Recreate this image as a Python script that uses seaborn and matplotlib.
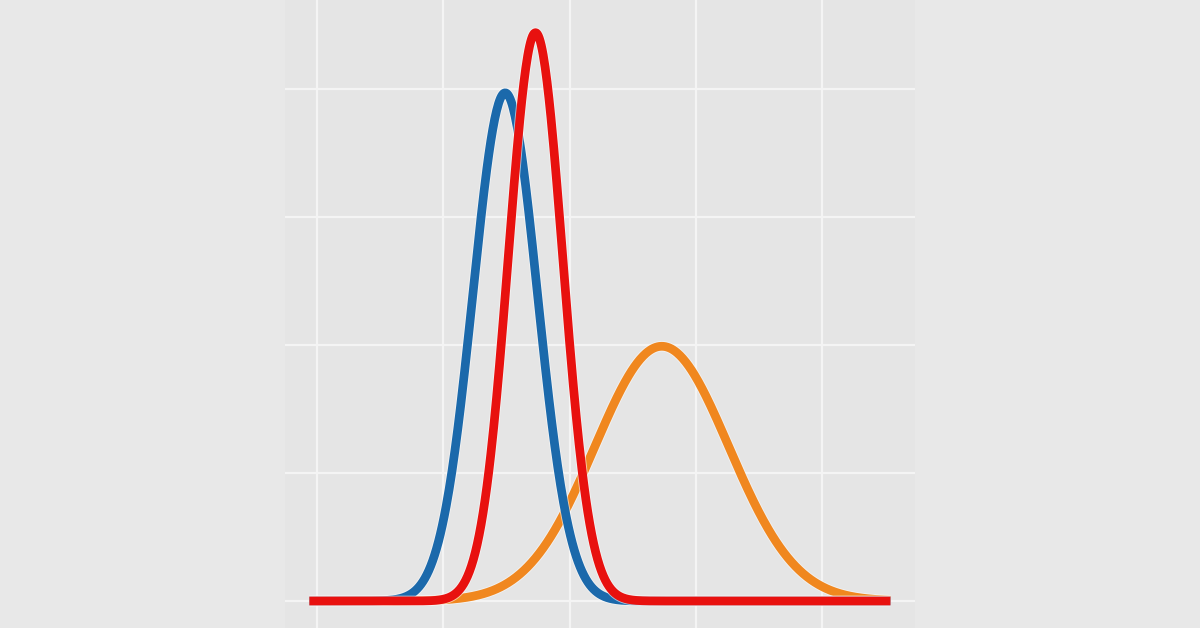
import numpy as np
import pandas as pd
import matplotlib
matplotlib.use("Agg")
import matplotlib.pyplot as plt
import matplotlib.patheffects as pe
import seaborn as sns

# three bell curves (centre, spread, peak height)
curve_names = ["orange", "blue", "red"]
curve_centres = [2.73, 1.49, 1.73]
curve_spreads = [0.53, 0.255, 0.215]
curve_peaks = [1.99, 3.97, 4.44]
curve_colours = ["#f0871f", "#1b69ab", "#e8110f"]

x_start, x_end = -0.06, 4.54
x_ticks = [0, 1, 2, 3, 4]
y_ticks = [0, 1, 2, 3, 4]


def bell_frame(name, centre, spread, peak):
    xs = np.linspace(x_start, x_end, 600)
    ys = peak * np.exp(-0.5 * ((xs - centre) / spread) ** 2)
    return pd.DataFrame({"x": xs, "y": ys, "curve": name})


frames = [bell_frame(n, c, s, p) for n, c, s, p in
          zip(curve_names, curve_centres, curve_spreads, curve_peaks)]
df = pd.concat(frames, ignore_index=True)

sns.set_theme(style="darkgrid", rc={
    "axes.facecolor": "#e5e5e5",
    "figure.facecolor": "#e8e8e8",
    "grid.color": "#f4f4f4",
    "grid.linewidth": 1.6,
})

fig = plt.figure(figsize=(12, 6.28), dpi=100)
ax = fig.add_axes([285 / 1200, 0, 630 / 1200, 1])

sns.lineplot(data=df, x="x", y="y", hue="curve", hue_order=curve_names,
             palette=curve_colours, linewidth=6.3, legend=False, ax=ax,
             estimator=None, sort=False)

for line in ax.lines:
    line.set_solid_capstyle("butt")
    line.set_path_effects([pe.Stroke(linewidth=7.6, foreground="#fbfbfb", alpha=0.6),
                           pe.Normal()])

ax.set_xlim((285 - 317) / 126.3, (915 - 317) / 126.3)
ax.set_ylim((601 - 628) / 128, 601 / 128)
ax.set_xticks(x_ticks)
ax.set_yticks(y_ticks)
ax.set_xticklabels([])
ax.set_yticklabels([])
ax.tick_params(length=0)
ax.set_xlabel("")
ax.set_ylabel("")
for s in ax.spines.values():
    s.set_visible(False)

fig.savefig("out.png", dpi=100, facecolor=fig.get_facecolor())
